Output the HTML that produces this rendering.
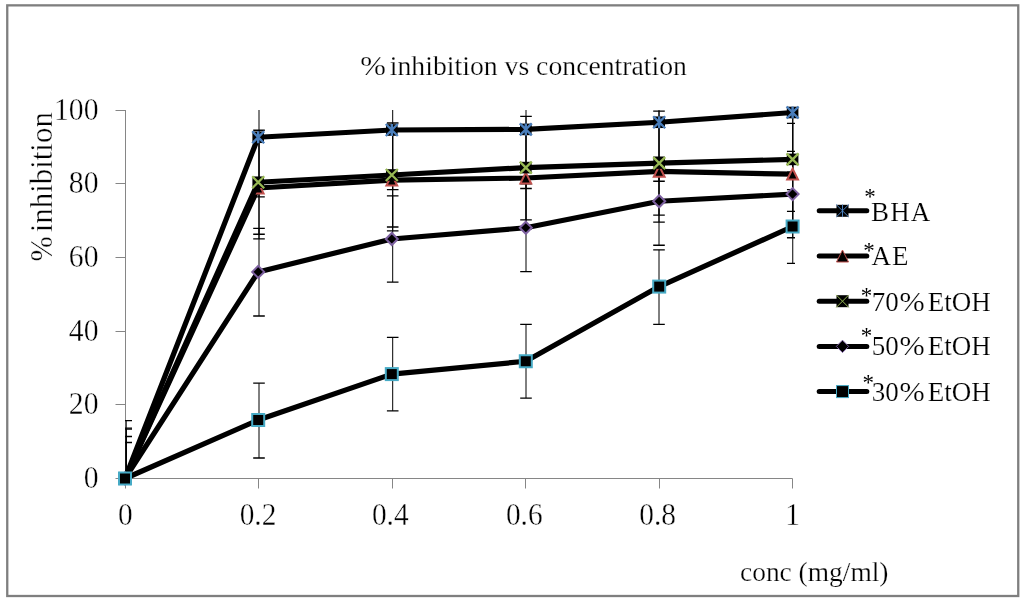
<!DOCTYPE html>
<html><head><meta charset="utf-8"><title>% inhibition vs concentration</title>
<style>
html,body{margin:0;padding:0;background:#fff;}
body{width:1024px;height:601px;overflow:hidden;}
svg{display:block;}
text{font-family:"Liberation Serif",serif;fill:#000;stroke:#fff;stroke-width:0.35px;}
.t30{font-size:30px;}
.t28{font-size:28px;stroke-width:0.25px;}
.t27{font-size:27px;stroke-width:0.2px;}
.ast{font-size:23px;stroke:none;}
</style></head><body>
<svg width="1024" height="601" viewBox="0 0 1024 601">
<defs><clipPath id="plot"><rect x="125" y="110" width="670" height="368.5"/></clipPath></defs>
<rect x="0" y="0" width="1024" height="601" fill="#fff"/>
<rect x="7.25" y="5.35" width="1011" height="590.65" fill="none" stroke="#7f7f7f" stroke-width="2.3"/>
<path d="M125.5 110V478.5M115.5 478.5H125.5M115.5 404.5H125.5M115.5 331.5H125.5M115.5 257.5H125.5M115.5 183.5H125.5M115.5 110.5H125.5M125.5 478.5H792.5M125.5 478.5V488.5M258.5 478.5V488.5M392.5 478.5V488.5M525.5 478.5V488.5M659.5 478.5V488.5M792.5 478.5V488.5" stroke="#868686" stroke-width="1" fill="none"/>
<g clip-path="url(#plot)"><path d="M126.2 420.70V536.30M259.0 77.55V196.95M392.7 70.30V189.70M526.0 69.70V188.50M659.0 62.55V181.25M792.75 52.80V172.20" stroke="#000" stroke-width="1.0" fill="none"/><path d="M126.2 429.20V527.80M259.0 137.20V238.80M392.7 129.30V230.90M526.0 127.20V228.80M659.0 120.55V222.15M792.75 123.40V225.00" stroke="#000" stroke-width="1.0" fill="none"/><path d="M126.2 428.20V528.80M259.0 130.25V234.25M392.7 123.00V227.00M526.0 116.40V219.80M659.0 111.10V215.10M792.75 107.40V211.40" stroke="#000" stroke-width="1.0" fill="none"/><path d="M126.2 436.50V520.50M259.0 228.40V316.00M392.7 195.90V282.10M526.0 183.90V271.60M659.0 157.25V245.25M792.75 151.40V237.75" stroke="#000" stroke-width="1.0" fill="none"/><path d="M126.2 442.50V514.50M259.0 383.20V458.00M392.7 337.30V410.90M526.0 324.45V398.05M659.0 249.80V324.40M792.75 189.70V263.30" stroke="#000" stroke-width="1.0" fill="none"/><path d="M120.40 420.70H132.00M120.40 536.30H132.00M253.20 77.55H264.80M253.20 196.95H264.80M386.90 70.30H398.50M386.90 189.70H398.50M520.20 69.70H531.80M520.20 188.50H531.80M653.20 62.55H664.80M653.20 181.25H664.80M786.95 52.80H798.55M786.95 172.20H798.55" stroke="#000" stroke-width="1.3" fill="none"/><path d="M120.40 429.20H132.00M120.40 527.80H132.00M253.20 137.20H264.80M253.20 238.80H264.80M386.90 129.30H398.50M386.90 230.90H398.50M520.20 127.20H531.80M520.20 228.80H531.80M653.20 120.55H664.80M653.20 222.15H664.80M786.95 123.40H798.55M786.95 225.00H798.55" stroke="#000" stroke-width="1.3" fill="none"/><path d="M120.40 428.20H132.00M120.40 528.80H132.00M253.20 130.25H264.80M253.20 234.25H264.80M386.90 123.00H398.50M386.90 227.00H398.50M520.20 116.40H531.80M520.20 219.80H531.80M653.20 111.10H664.80M653.20 215.10H664.80M786.95 107.40H798.55M786.95 211.40H798.55" stroke="#000" stroke-width="1.3" fill="none"/><path d="M120.40 436.50H132.00M120.40 520.50H132.00M253.20 228.40H264.80M253.20 316.00H264.80M386.90 195.90H398.50M386.90 282.10H398.50M520.20 183.90H531.80M520.20 271.60H531.80M653.20 157.25H664.80M653.20 245.25H664.80M786.95 151.40H798.55M786.95 237.75H798.55" stroke="#000" stroke-width="1.3" fill="none"/><path d="M120.40 442.50H132.00M120.40 514.50H132.00M253.20 383.20H264.80M253.20 458.00H264.80M386.90 337.30H398.50M386.90 410.90H398.50M520.20 324.45H531.80M520.20 398.05H531.80M653.20 249.80H664.80M653.20 324.40H664.80M786.95 189.70H798.55M786.95 263.30H798.55" stroke="#000" stroke-width="1.3" fill="none"/></g>
<polyline points="125.00,478.50 258.20,137.25 391.80,130.00 525.80,129.40 659.20,122.25 792.60,112.50" fill="none" stroke="#000" stroke-width="5.2" stroke-linejoin="round" stroke-linecap="round"/>
<rect x="119.20" y="472.70" width="11.60" height="11.60" fill="#000"/><path d="M119.00 472.50L131.00 484.50M131.00 472.50L119.00 484.50M125.00 472.50L125.00 484.50" stroke="#4a7ebb" stroke-width="2.4" fill="none"/><rect x="252.40" y="131.45" width="11.60" height="11.60" fill="#000"/><path d="M252.20 131.25L264.20 143.25M264.20 131.25L252.20 143.25M258.20 131.25L258.20 143.25" stroke="#4a7ebb" stroke-width="2.4" fill="none"/><rect x="386.00" y="124.20" width="11.60" height="11.60" fill="#000"/><path d="M385.80 124.00L397.80 136.00M397.80 124.00L385.80 136.00M391.80 124.00L391.80 136.00" stroke="#4a7ebb" stroke-width="2.4" fill="none"/><rect x="520.00" y="123.60" width="11.60" height="11.60" fill="#000"/><path d="M519.80 123.40L531.80 135.40M531.80 123.40L519.80 135.40M525.80 123.40L525.80 135.40" stroke="#4a7ebb" stroke-width="2.4" fill="none"/><rect x="653.40" y="116.45" width="11.60" height="11.60" fill="#000"/><path d="M653.20 116.25L665.20 128.25M665.20 116.25L653.20 128.25M659.20 116.25L659.20 128.25" stroke="#4a7ebb" stroke-width="2.4" fill="none"/><rect x="786.80" y="106.70" width="11.60" height="11.60" fill="#000"/><path d="M786.60 106.50L798.60 118.50M798.60 106.50L786.60 118.50M792.60 106.50L792.60 118.50" stroke="#4a7ebb" stroke-width="2.4" fill="none"/>
<polyline points="125.00,478.50 258.20,188.00 391.80,180.10 525.80,178.00 659.20,171.35 792.60,174.20" fill="none" stroke="#000" stroke-width="5.2" stroke-linejoin="round" stroke-linecap="round"/>
<path d="M125.00 473.10L130.40 483.90L119.60 483.90Z" fill="#000" stroke="#c0504d" stroke-width="2.0" stroke-linejoin="miter"/><path d="M258.20 182.60L263.60 193.40L252.80 193.40Z" fill="#000" stroke="#c0504d" stroke-width="2.0" stroke-linejoin="miter"/><path d="M391.80 174.70L397.20 185.50L386.40 185.50Z" fill="#000" stroke="#c0504d" stroke-width="2.0" stroke-linejoin="miter"/><path d="M525.80 172.60L531.20 183.40L520.40 183.40Z" fill="#000" stroke="#c0504d" stroke-width="2.0" stroke-linejoin="miter"/><path d="M659.20 165.95L664.60 176.75L653.80 176.75Z" fill="#000" stroke="#c0504d" stroke-width="2.0" stroke-linejoin="miter"/><path d="M792.60 168.80L798.00 179.60L787.20 179.60Z" fill="#000" stroke="#c0504d" stroke-width="2.0" stroke-linejoin="miter"/>
<polyline points="125.00,478.50 258.20,182.25 391.80,175.00 525.80,167.60 659.20,163.10 792.60,159.40" fill="none" stroke="#000" stroke-width="5.2" stroke-linejoin="round" stroke-linecap="round"/>
<rect x="119.20" y="472.70" width="11.60" height="11.60" fill="#000"/><path d="M119.00 472.50L131.00 484.50M131.00 472.50L119.00 484.50" stroke="#98b954" stroke-width="2.3" fill="none"/><rect x="252.40" y="176.45" width="11.60" height="11.60" fill="#000"/><path d="M252.20 176.25L264.20 188.25M264.20 176.25L252.20 188.25" stroke="#98b954" stroke-width="2.3" fill="none"/><rect x="386.00" y="169.20" width="11.60" height="11.60" fill="#000"/><path d="M385.80 169.00L397.80 181.00M397.80 169.00L385.80 181.00" stroke="#98b954" stroke-width="2.3" fill="none"/><rect x="520.00" y="161.80" width="11.60" height="11.60" fill="#000"/><path d="M519.80 161.60L531.80 173.60M531.80 161.60L519.80 173.60" stroke="#98b954" stroke-width="2.3" fill="none"/><rect x="653.40" y="157.30" width="11.60" height="11.60" fill="#000"/><path d="M653.20 157.10L665.20 169.10M665.20 157.10L653.20 169.10" stroke="#98b954" stroke-width="2.3" fill="none"/><rect x="786.80" y="153.60" width="11.60" height="11.60" fill="#000"/><path d="M786.60 153.40L798.60 165.40M798.60 153.40L786.60 165.40" stroke="#98b954" stroke-width="2.3" fill="none"/>
<polyline points="125.00,478.50 258.20,271.90 391.80,239.00 525.80,227.75 659.20,201.25 792.60,194.10" fill="none" stroke="#000" stroke-width="5.2" stroke-linejoin="round" stroke-linecap="round"/>
<path d="M125.00 472.50L131.00 478.50L125.00 484.50L119.00 478.50Z" fill="#000" stroke="#7d60a0" stroke-width="2.0"/><path d="M258.20 265.90L264.20 271.90L258.20 277.90L252.20 271.90Z" fill="#000" stroke="#7d60a0" stroke-width="2.0"/><path d="M391.80 233.00L397.80 239.00L391.80 245.00L385.80 239.00Z" fill="#000" stroke="#7d60a0" stroke-width="2.0"/><path d="M525.80 221.75L531.80 227.75L525.80 233.75L519.80 227.75Z" fill="#000" stroke="#7d60a0" stroke-width="2.0"/><path d="M659.20 195.25L665.20 201.25L659.20 207.25L653.20 201.25Z" fill="#000" stroke="#7d60a0" stroke-width="2.0"/><path d="M792.60 188.10L798.60 194.10L792.60 200.10L786.60 194.10Z" fill="#000" stroke="#7d60a0" stroke-width="2.0"/>
<polyline points="125.00,478.50 258.20,420.00 391.80,374.10 525.80,361.25 659.20,286.60 792.60,226.50" fill="none" stroke="#000" stroke-width="5.2" stroke-linejoin="round" stroke-linecap="round"/>
<rect x="119.00" y="472.50" width="12.00" height="12.00" fill="#000" stroke="#46aac5" stroke-width="2.0"/><rect x="252.20" y="414.00" width="12.00" height="12.00" fill="#000" stroke="#46aac5" stroke-width="2.0"/><rect x="385.80" y="368.10" width="12.00" height="12.00" fill="#000" stroke="#46aac5" stroke-width="2.0"/><rect x="519.80" y="355.25" width="12.00" height="12.00" fill="#000" stroke="#46aac5" stroke-width="2.0"/><rect x="653.20" y="280.60" width="12.00" height="12.00" fill="#000" stroke="#46aac5" stroke-width="2.0"/><rect x="786.60" y="220.50" width="12.00" height="12.00" fill="#000" stroke="#46aac5" stroke-width="2.0"/>
<path d="M819.2 210.80H866.8" stroke="#000" stroke-width="5" stroke-linecap="round"/><rect x="836.50" y="204.80" width="12.00" height="12.00" fill="#000"/><path d="M836.20 204.50L848.80 217.10M848.80 204.50L836.20 217.10M842.50 204.50L842.50 217.10" stroke="#4a7ebb" stroke-width="1.0" fill="none"/><text class="t27" x="871.0" y="221.1" textLength="59.3" lengthAdjust="spacing">BHA</text>
<path d="M819.2 256.00H866.8" stroke="#000" stroke-width="5" stroke-linecap="round"/><path d="M842.50 250.00L848.50 262.00L836.50 262.00Z" fill="#000" stroke="#c0504d" stroke-width="1.0" stroke-linejoin="miter"/><text class="t27" x="871.5" y="265.4" textLength="37.0" lengthAdjust="spacing">AE</text>
<path d="M819.2 301.20H866.8" stroke="#000" stroke-width="5" stroke-linecap="round"/><rect x="836.50" y="295.20" width="12.00" height="12.00" fill="#000"/><path d="M836.20 294.90L848.80 307.50M848.80 294.90L836.20 307.50" stroke="#98b954" stroke-width="1.0" fill="none"/><text class="t27" x="871.7" y="310.5">70<tspan x="899.4" textLength="25.2" lengthAdjust="spacingAndGlyphs">%</tspan><tspan x="921.05"> EtOH</tspan></text>
<path d="M819.2 346.40H866.8" stroke="#000" stroke-width="5" stroke-linecap="round"/><path d="M842.50 340.20L848.70 346.40L842.50 352.60L836.30 346.40Z" fill="#000" stroke="#7d60a0" stroke-width="1.0"/><text class="t27" x="871.7" y="355.2">50<tspan x="899.4" textLength="25.2" lengthAdjust="spacingAndGlyphs">%</tspan><tspan x="921.05"> EtOH</tspan></text>
<path d="M819.2 391.60H866.8" stroke="#000" stroke-width="5" stroke-linecap="round"/><rect x="836.50" y="385.60" width="12.00" height="12.00" fill="#000" stroke="#46aac5" stroke-width="1.0"/><text class="t27" x="871.7" y="401.0">30<tspan x="899.4" textLength="25.2" lengthAdjust="spacingAndGlyphs">%</tspan><tspan x="921.05"> EtOH</tspan></text>
<text class="ast" x="870.1" y="204.0" text-anchor="middle">*</text><text class="ast" x="868.9" y="258.1" text-anchor="middle">*</text><text class="ast" x="866.6" y="302.6" text-anchor="middle">*</text><text class="ast" x="866.6" y="343.3" text-anchor="middle">*</text><text class="ast" x="868.3" y="389.5" text-anchor="middle">*</text>
<text class="t30" transform="translate(98.5 488.1) scale(0.99 1.075)" text-anchor="end">0</text><text class="t30" transform="translate(98.5 414.4) scale(0.99 1.075)" text-anchor="end">20</text><text class="t30" transform="translate(98.5 340.7) scale(0.99 1.075)" text-anchor="end">40</text><text class="t30" transform="translate(98.5 267.0) scale(0.99 1.075)" text-anchor="end">60</text><text class="t30" transform="translate(98.5 193.3) scale(0.99 1.075)" text-anchor="end">80</text><text class="t30" transform="translate(98.5 119.6) scale(0.99 1.075)" text-anchor="end">100</text>
<text class="t30" transform="translate(125.3 525) scale(0.98 1.075)" text-anchor="middle">0</text><text class="t30" transform="translate(258.0 525) scale(0.98 1.075)" text-anchor="middle">0.2</text><text class="t30" transform="translate(390.3 525) scale(0.98 1.075)" text-anchor="middle">0.4</text><text class="t30" transform="translate(524.3 525) scale(0.98 1.075)" text-anchor="middle">0.6</text><text class="t30" transform="translate(657.7 525) scale(0.98 1.075)" text-anchor="middle">0.8</text><text class="t30" transform="translate(792.6 525) scale(0.98 1.075)" text-anchor="middle">1</text>
<text class="t28" x="360.3" y="75.2"><tspan textLength="25.66" lengthAdjust="spacingAndGlyphs">%</tspan><tspan x="382.87" textLength="304.13" lengthAdjust="spacingAndGlyphs"> inhibition vs concentration</tspan></text>
<text class="t28" x="740" y="580.5" textLength="148.5" lengthAdjust="spacingAndGlyphs">conc (mg/ml)</text>
<text class="t30" transform="translate(51.8 261.6) rotate(-90) scale(1 1.085)"><tspan textLength="25.26" lengthAdjust="spacingAndGlyphs">%</tspan><tspan x="21.57" textLength="127.86" lengthAdjust="spacingAndGlyphs"> inhibition</tspan></text>
</svg></body></html>
